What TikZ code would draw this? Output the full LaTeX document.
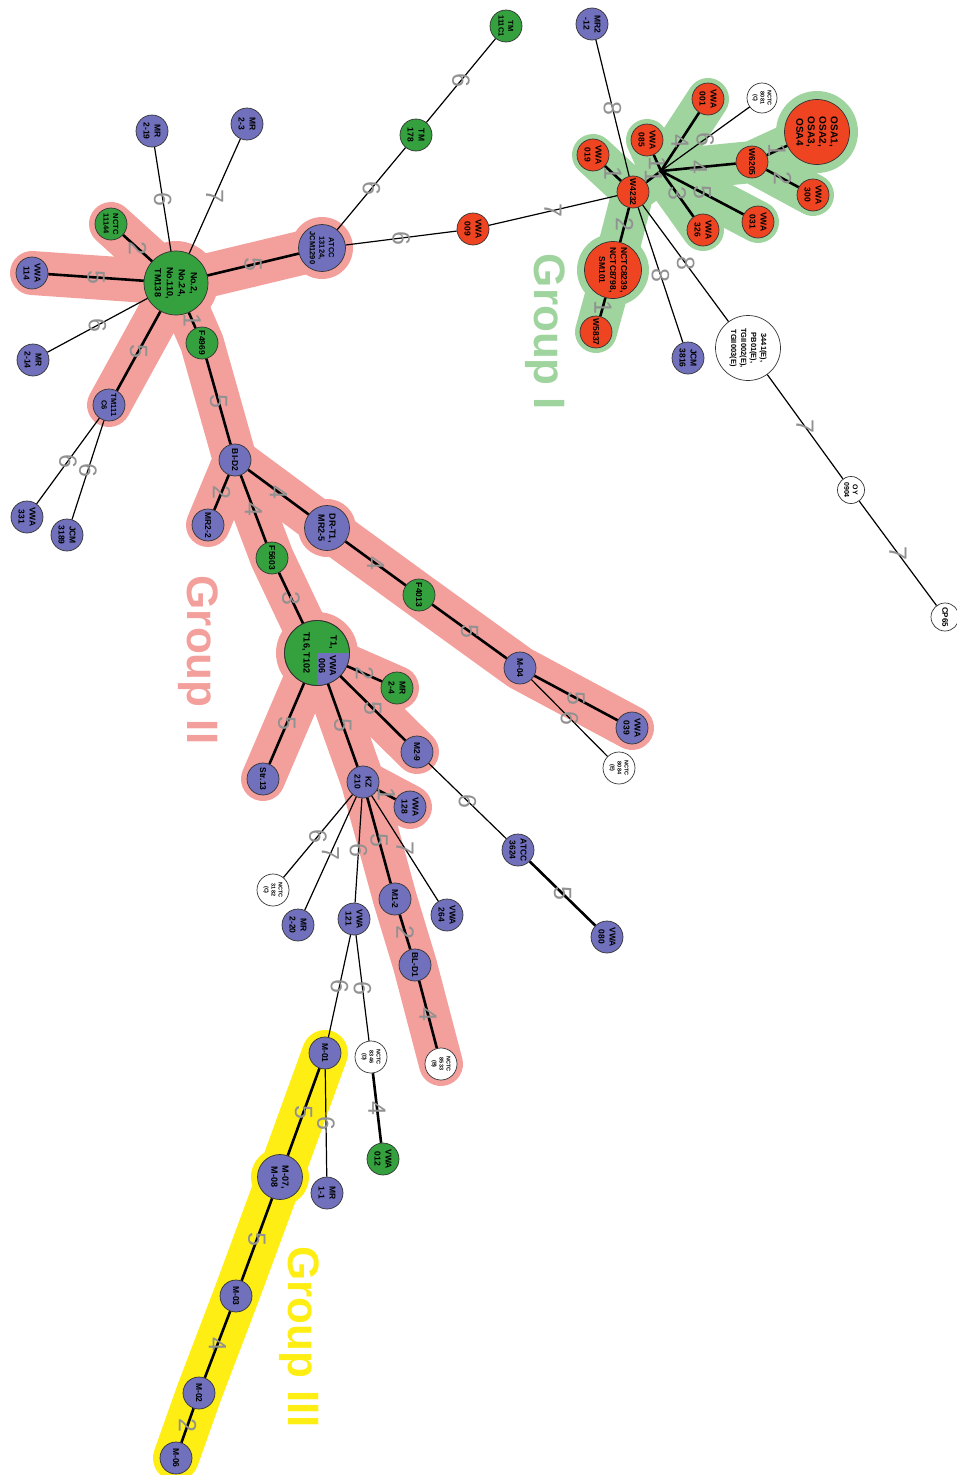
\documentclass[tikz,border=0pt]{standalone}
\usepackage{fontspec}
\setmainfont{Liberation Sans}
\usetikzlibrary{backgrounds}
\definecolor{nblue}{RGB}{112,112,188}
\definecolor{ngreen}{RGB}{52,160,62}
\definecolor{nred}{RGB}{238,68,34}
\definecolor{hpink}{RGB}{243,160,156}
\definecolor{hgreen}{RGB}{160,212,158}
\definecolor{hyellow}{RGB}{255,238,20}
\definecolor{labgray}{RGB}{145,145,145}
\begin{document}
\begin{tikzpicture}[x=1pt,y=-1pt,
  every node/.style={rotate=-90},
  iso/.style={circle,draw=black!80,line width=0.7pt,inner sep=0pt,minimum size=32pt,
    align=center,font=\bfseries\fontsize{8.5}{11}\selectfont},
  bn/.style={iso,fill=nblue},
  gn/.style={iso,fill=ngreen},
  rn/.style={iso,fill=nred},
  wn/.style={iso,fill=white,font=\bfseries\fontsize{5.5}{7}\selectfont},
  one/.style={font=\bfseries\fontsize{8.5}{10}\selectfont},
  tiny2/.style={font=\bfseries\fontsize{7.5}{9.5}\selectfont},
  pietext/.style={inner sep=0pt,font=\bfseries\fontsize{9}{10}\selectfont},
  thk/.style={line width=2.6pt},
  thn/.style={line width=1.2pt},
  elab/.style={inner sep=0pt,text=labgray,font=\fontsize{25}{25}\selectfont},
  pinkband/.style={draw=hpink,line width=44pt,line cap=round,line join=round},
  greenband/.style={draw=hgreen,line width=42pt,line cap=round,line join=round},
  yellowband/.style={draw=hyellow,line width=46pt,line cap=round,line join=round},
  grp/.style={font=\bfseries\fontsize{44}{44}\selectfont}
]
\useasboundingbox (0,0) rectangle (957,1475);

% ---------- isolates, upper left ----------
\node[gn,minimum size=64pt,font=\bfseries\fontsize{9}{12}\selectfont] (c) at (176,283) {No.2,\\No.24,\\No.110,\\TM138};
\node[bn] (mr219) at (152,131) {MR\\2-19};
\node[bn] (mr23) at (247,124) {MR\\2-3};
\node[gn,tiny2] (nctc11144) at (111,224) {NCTC\\11144};
\node[bn] (vwa114) at (32,273) {VWA\\114};
\node[bn] (mr214) at (33,360) {MR\\2-14};
\node[bn,tiny2] (tm111c6) at (109,405) {TM111\\C6};
\node[gn,one] (f4969) at (202,343) {F4969};
\node[bn,minimum size=47pt,font=\bfseries\fontsize{7.5}{9.5}\selectfont] (atcc13124) at (322,248) {ATCC\\13124,\\JCM1290};
\node[gn] (tm178) at (416,135) {TM\\178};
\node[gn,tiny2] (tm111c1) at (506,26) {TM\\111C1};
\node[rn] (vwa009) at (473,229) {VWA\\009};
\node[bn] (vwa331) at (27,517) {VWA\\331};
\node[bn] (jcm3189) at (67,535) {JCM\\3189};

% ---------- isolates, upper right ----------
\node[bn] (mr212) at (592,24) {MR2\\-12};
\node[rn] (vwa001) at (708,99) {VWA\\001};
\node[wn,minimum size=30pt] (nctc8081) at (762,98) {NCTC\\8081\\(C)};
\node[rn,minimum size=65pt,font=\bfseries\fontsize{10}{11.5}\selectfont] (osa) at (817,132) {OSA1,\\OSA2,\\OSA3,\\OSA4};
\node[rn] (vwa085) at (647,140) {VWA\\085};
\node[rn] (vwa019) at (593,155) {VWA\\019};
\node[rn,one] (w6205) at (752,162) {W6205};
\node[rn,one] (w4232) at (633,192) {W4232};
\coordinate (hub) at (661,171);
\node[rn] (vwa300) at (813,195) {VWA\\300};
\node[rn] (vwa031) at (758,222) {VWA\\031};
\node[rn] (vwa326) at (703,230) {VWA\\326};
\node[rn,minimum size=57pt,font=\bfseries\fontsize{8.5}{11}\selectfont] (nctc8239) at (613,270) {NCTC8239,\\NCTC8798,\\SM101};
\node[rn,one] (w5837) at (596,332) {W5837};
\node[bn] (jcm3816) at (688,358) {JCM\\3816};
\node[wn,minimum size=65pt,font=\bfseries\fontsize{7.5}{10}\selectfont] (e3441) at (748,348) {3441(E),\\PB01(E),\\TGII002(E),\\TGII003(E)};
\node[wn,minimum size=27pt,font=\bfseries\fontsize{7}{8.5}\selectfont] (oy0904) at (851,490) {OY\\0904};
\node[wn,minimum size=28pt,font=\bfseries\fontsize{8}{9}\selectfont] (cp65) at (945,617) {CP65};

% ---------- isolates, middle ----------
\node[bn,one] (bid2) at (235,460) {BI-D2};
\node[bn,one] (mr22) at (208,525) {MR2-2};
\node[bn,minimum size=45pt,font=\bfseries\fontsize{9}{11}\selectfont] (drt1) at (327,528) {DR-T1,\\MR2-5};
\node[gn,one] (f5603) at (272,558) {F5603};
\node[gn,one] (f4013) at (419,595) {F4013};
\node[gn,minimum size=65pt] (t1) at (317,653) {};
\node[gn] (mr24) at (397,688) {MR\\2-4};
\node[bn,one] (m29) at (417,752) {M2-9};
\node[bn,one] (str13) at (263,779) {Str.13};
\node[bn] (kz210) at (363,782) {KZ\\210};
\node[bn,one] (m04) at (520,668) {M-04};
\node[bn] (vwa039) at (632,728) {VWA\\039};
\node[wn] (nctc8084) at (619,768) {NCTC\\8084\\(E)};

% ---------- isolates, lower part ----------
\node[bn] (vwa128) at (410,807) {VWA\\128};
\node[wn] (nctc3182) at (273,890) {NCTC\\3182\\(C)};
\node[bn] (mr220) at (298,925) {MR\\2-20};
\node[bn] (vwa121) at (354,919) {VWA\\121};
\node[bn,one] (m12) at (395,899) {M1-2};
\node[bn] (vwa264) at (447,915) {VWA\\264};
\node[bn] (atcc3624) at (518,850) {ATCC\\3624};
\node[bn] (vwa080) at (607,937) {VWA\\080};
\node[bn,one] (bld1) at (415,965) {BL-D1};
\node[wn] (nctc8533) at (441,1064) {NCTC\\8533\\(B)};
\node[wn] (nctc8346) at (371,1057) {NCTC\\8346\\(D)};
\node[bn,one] (m01) at (325,1053) {M-01};
\node[gn] (vwa012) at (383,1159) {VWA\\012};
\node[bn] (mr11) at (327,1193) {MR\\1-1};
\node[bn,minimum size=45pt,font=\bfseries\fontsize{9}{11}\selectfont] (m07) at (280,1177) {M-07,\\M-08};
\node[bn,one] (m03) at (236,1296) {M-03};
\node[bn,one] (m02) at (199,1393) {M-02};
\node[bn,one] (m06) at (176,1458) {M-06};

% two-colour node: T1, T16, T102 with VWA 006
\begin{scope}
  \clip (t1.center) circle (32.5pt);
  \fill[nblue] (t1.center) rectangle ++(40,40);
\end{scope}
\draw[black!80,line width=0.7pt] (t1.center) circle (32.5pt);
\node[pietext] (t1a) at (333,642) {T1,};
\node[pietext] (t1b) at (306,653) {T16, T102};
\node[pietext] (t1c) at (333,666) {VWA};
\node[pietext] (t1d) at (322,666) {006};

% ---------- group halos ----------
\begin{scope}[on background layer]
  \draw[pinkband] (c.center) -- (nctc11144.center) (c.center) -- (vwa114.center)
    (c.center) -- (tm111c6.center) (c.center) -- (f4969.center) (c.center) -- (atcc13124.center)
    (f4969.center) -- (bid2.center) (bid2.center) -- (mr22.center) (bid2.center) -- (f5603.center)
    (bid2.center) -- (drt1.center) (drt1.center) -- (f4013.center) (f4013.center) -- (m04.center)
    (m04.center) -- (vwa039.center) (f5603.center) -- (t1.center) (t1.center) -- (mr24.center)
    (t1.center) -- (m29.center) (t1.center) -- (str13.center) (t1.center) -- (kz210.center)
    (kz210.center) -- (vwa128.center) (kz210.center) -- (m12.center) (m12.center) -- (bld1.center)
    (bld1.center) -- (nctc8533.center);
  \fill[hpink] (c.center) circle (42pt) (t1.center) circle (41pt)
    (atcc13124.center) circle (31pt) (drt1.center) circle (29pt);
  \draw[greenband] (vwa019.center) -- (w4232.center) (w4232.center) -- (nctc8239.center)
    (nctc8239.center) -- (w5837.center) (w4232.center) -- (hub) (hub) -- (vwa085.center)
    (hub) -- (vwa001.center) (hub) -- (w6205.center) (w6205.center) -- (osa.center)
    (w6205.center) -- (vwa300.center) (hub) -- (vwa031.center) (hub) -- (vwa326.center);
  \fill[hgreen] (osa.center) circle (41pt) (nctc8239.center) circle (36pt);
  \draw[yellowband] (m01.center) -- (m07.center) (m07.center) -- (m03.center)
    (m03.center) -- (m02.center) (m02.center) -- (m06.center);
  \fill[hyellow] (m07.center) circle (29pt);
\end{scope}

% ---------- connectors ----------
\draw[thn] (c) -- node[elab]{6} (mr219);
\draw[thn] (c) -- node[elab]{7} (mr23);
\draw[thk] (c) -- node[elab]{2} (nctc11144);
\draw[thk] (c) -- node[elab]{5} (vwa114);
\draw[thn] (c) -- node[elab]{6} (mr214);
\draw[thk] (c) -- node[elab]{5} (tm111c6);
\draw[thk] (c) -- node[elab]{1} (f4969);
\draw[thk] (c) -- node[elab]{5} (atcc13124);
\draw[thn] (tm111c6) -- node[elab]{6} (vwa331);
\draw[thn] (tm111c6) -- node[elab]{6} (jcm3189);
\draw[thn] (atcc13124) -- node[elab]{6} (tm178);
\draw[thn] (tm178) -- node[elab]{6} (tm111c1);
\draw[thn] (atcc13124) -- node[elab]{6} (vwa009);
\draw[thn] (vwa009) -- node[elab]{7} (w4232);
\draw[thk] (f4969) -- node[elab]{5} (bid2);
\draw[thk] (bid2) -- node[elab]{2} (mr22);
\draw[thk] (bid2) -- node[elab]{4} (f5603);
\draw[thk] (bid2) -- node[elab]{4} (drt1);
\draw[thk] (drt1) -- node[elab]{4} (f4013);
\draw[thk] (f4013) -- node[elab]{5} (m04);
\draw[thk] (m04) -- node[elab]{5} (vwa039);
\draw[thn] (m04) -- node[elab]{6} (nctc8084);
\draw[thk] (f5603) -- node[elab]{3} (t1);
\draw[thk] (t1) -- node[elab]{2} (mr24);
\draw[thk] (t1) -- node[elab]{5} (m29);
\draw[thk] (t1) -- node[elab]{5} (str13);
\draw[thk] (t1) -- node[elab]{5} (kz210);
\draw[thn] (m29) -- node[elab]{6} (atcc3624);
\draw[thk] (atcc3624) -- node[elab]{5} (vwa080);
\draw[thk] (kz210) -- node[elab]{1} (vwa128);
\draw[thn] (kz210) -- node[elab]{6} (nctc3182);
\draw[thn] (kz210) -- node[elab]{7} (mr220);
\draw[thn] (kz210) -- node[elab]{6} (vwa121);
\draw[thk] (kz210) -- node[elab]{5} (m12);
\draw[thn] (kz210) -- node[elab]{7} (vwa264);
\draw[thk] (m12) -- node[elab]{2} (bld1);
\draw[thk] (bld1) -- node[elab]{4} (nctc8533);
\draw[thn] (vwa121) -- node[elab]{6} (m01);
\draw[thn] (vwa121) -- node[elab]{6} (nctc8346);
\draw[thk] (nctc8346) -- node[elab]{4} (vwa012);
\draw[thk] (m01) -- node[elab]{5} (m07);
\draw[thn] (m01) -- node[elab]{6} (mr11);
\draw[thk] (m07) -- node[elab]{5} (m03);
\draw[thk] (m03) -- node[elab]{4} (m02);
\draw[thk] (m02) -- node[elab]{2} (m06);
\draw[thn] (w4232) -- node[elab]{8} (mr212);
\draw[thk] (w4232) -- node[elab]{1} (vwa019);
\draw[thk] (w4232) -- node[elab]{1} (hub);
\draw[thk] (hub) -- node[elab]{1} (vwa085);
\draw[thk] (hub) -- node[elab]{4} (vwa001);
\draw[thn] (hub) -- node[elab]{6} (nctc8081);
\draw[thk] (hub) -- node[elab]{4} (w6205);
\draw[thk] (hub) -- node[elab]{5} (vwa031);
\draw[thk] (hub) -- node[elab]{3} (vwa326);
\draw[thk] (w6205) -- node[elab]{1} (osa);
\draw[thk] (w6205) -- node[elab]{2} (vwa300);
\draw[thk] (w4232) -- node[elab]{2} (nctc8239);
\draw[thk] (nctc8239) -- node[elab]{1} (w5837);
\draw[thn] (w4232) -- node[elab]{8} (jcm3816);
\draw[thn] (w4232) -- node[elab]{8} (e3441);
\draw[thn] (e3441) -- node[elab]{7} (oy0904);
\draw[thn] (oy0904) -- node[elab]{7} (cp65);

% ---------- group names ----------
\node[grp,text=hgreen] (grpI) at (545,332) {Group I};
\node[grp,text=hpink] (grpII) at (198,660) {Group II};
\node[grp,text=hyellow] (grpIII) at (299,1337) {Group III};
\end{tikzpicture}
\end{document}
